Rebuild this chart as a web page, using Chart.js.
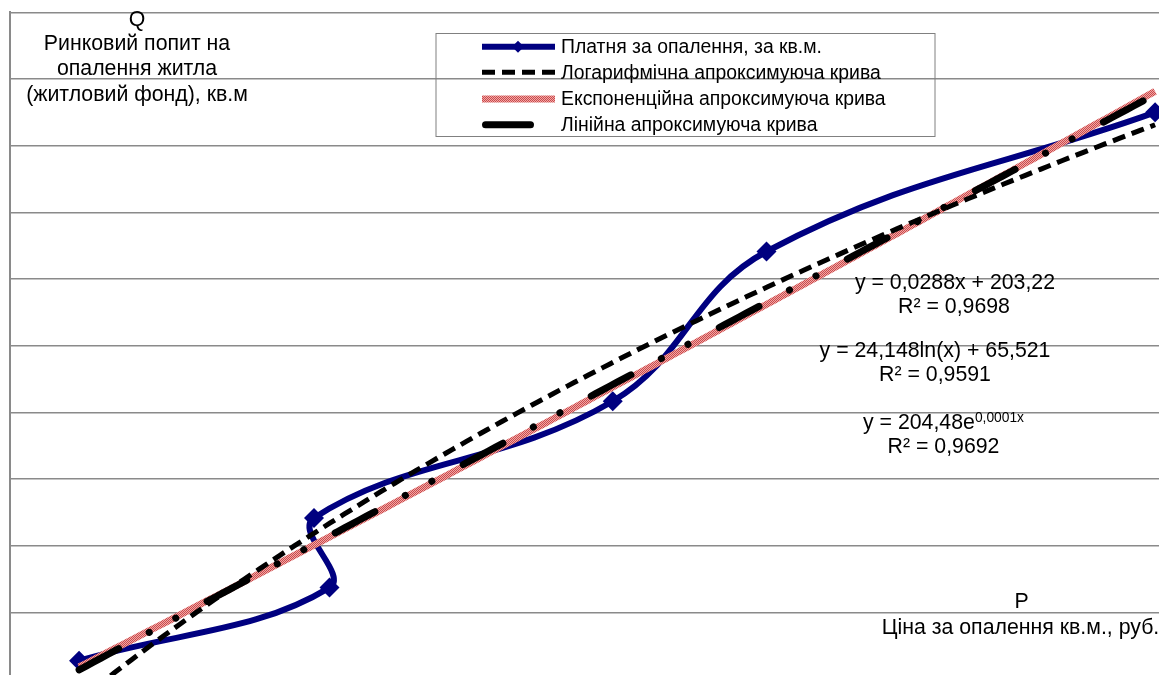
<!DOCTYPE html>
<html lang="uk">
<head>
<meta charset="utf-8">
<title>Ринковий попит на опалення житла</title>
<script src="https://cdn.jsdelivr.net/npm/chart.js@4.4.1/dist/chart.umd.min.js"></script>
<style>
  html, body { margin: 0; padding: 0; background: #fff; overflow: hidden; }
  #wrap { position: relative; width: 1159px; height: 675px; overflow: hidden; background: #fff; }
  #chart { position: absolute; left: 0; top: 0; }
</style>
</head>
<body>
<div id="wrap"><canvas id="chart" width="1210" height="690"></canvas></div>
<script>
// Heating price per sq.m (P, rub.) and the market demand for housing heating (Q, sq.m)
const price  = [565, 710, 701, 874, 963, 1188];
const demand = [219.78, 222.06, 224.23, 227.87, 232.54, 236.88];

// Axis ranges and the horizontal grid values
const xRange = [525, 1214];
const yGrid  = [240, 237.92, 235.84, 233.76, 231.68, 229.6, 227.52, 225.44, 223.36, 221.28, 219.2];

const seriesNames = [
  'Платня за опалення, за кв.м.',
  'Логарифмічна апроксимуюча крива',
  'Експоненційна апроксимуюча крива',
  'Лінійна апроксимуюча крива'
];
const yTitle = ['Q', 'Ринковий попит на', 'опалення житла', '(житловий фонд), кв.м'];
const xTitle = ['P', 'Ціна за опалення кв.м., руб.'];
const linLabel = ['y = 0,0288x + 203,22', 'R² = 0,9698'];
const logLabel = ['y = 24,148ln(x) + 65,521', 'R² = 0,9591'];
const expLabel = ['y = 204,48e', '0,0001x', 'R² = 0,9692'];

// Least-squares fits used for the three trend lines
function regress(X, Y) {
  const n = X.length;
  let mx = 0, my = 0;
  for (let i = 0; i < n; i++) { mx += X[i]; my += Y[i]; }
  mx /= n; my /= n;
  let sxx = 0, sxy = 0;
  for (let i = 0; i < n; i++) { sxx += (X[i] - mx) ** 2; sxy += (X[i] - mx) * (Y[i] - my); }
  const b = sxy / sxx;
  return { a: my - b * mx, b };
}
const linFit = regress(price, demand);
const logFit = regress(price.map(Math.log), demand);
const expRaw = regress(price, demand.map(Math.log));
const expFit = { A: Math.exp(expRaw.a), k: expRaw.b };

const xLo = Math.min(...price), xHi = Math.max(...price);
function curve(fn) {
  const pts = [];
  for (let i = 0; i <= 150; i++) {
    const x = xLo + (xHi - xLo) * i / 150;
    pts.push({ x, y: fn(x) });
  }
  return pts;
}

const FONT = '"Liberation Sans", Arial, sans-serif';
const NAVY = '#000080';
const GRID = '#8a8a8a';
const LIN_DASH = [45, 34.5, 0.1, 30, 0.1, 35.5];
const LOG_DASH = [13, 7];

const ctx = document.getElementById('chart').getContext('2d');

// fine red/pink mesh for the exponential trend line
const tile = document.createElement('canvas');
tile.width = 2; tile.height = 2;
const tg = tile.getContext('2d');
tg.fillStyle = '#efa8a8'; tg.fillRect(0, 0, 2, 2);
tg.fillStyle = '#cc4a4a'; tg.fillRect(0, 0, 1, 1); tg.fillRect(1, 1, 1, 1);
const MESH = ctx.createPattern(tile, 'repeat');

// axis titles, trend equations and the boxed legend
const annotations = {
  id: 'annotations',
  afterDraw(chart) {
    const c = chart.ctx;
    c.save();
    c.fillStyle = '#000';
    c.textBaseline = 'middle';
    c.textAlign = 'center';
    c.font = '21.3px ' + FONT;
    [20.5, 44, 69.5, 95].forEach((y, i) => c.fillText(yTitle[i], 137, y));
    c.fillText(xTitle[0], 1021.5, 602.5);
    c.fillText(xTitle[1], 1020.5, 628.5);

    c.fillText(linLabel[0], 955, 283);
    c.fillText(linLabel[1], 954, 306.7);
    c.fillText(logLabel[0], 935, 351);
    c.fillText(logLabel[1], 935, 375.5);
    c.fillText(expLabel[2], 943.5, 447.5);
    const wMain = c.measureText(expLabel[0]).width;
    c.font = '13.8px ' + FONT;
    const wSup = c.measureText(expLabel[1]).width;
    const ex = 943.5 - (wMain + wSup) / 2;
    c.textAlign = 'left';
    c.fillText(expLabel[1], ex + wMain, 418.5);
    c.font = '21.3px ' + FONT;
    c.fillText(expLabel[0], ex, 423.5);

    // legend
    c.strokeStyle = '#808080';
    c.lineWidth = 1;
    c.strokeRect(436, 33.5, 499, 103);
    const L0 = 482, L1 = 555;
    const ly = [46.7, 72.3, 99, 124.7];
    const ty = [47.3, 73.3, 99.3, 125.7];
    c.lineCap = 'butt';
    c.strokeStyle = NAVY; c.lineWidth = 6;
    c.beginPath(); c.moveTo(L0, ly[0]); c.lineTo(L1, ly[0]); c.stroke();
    c.fillStyle = NAVY;
    c.beginPath();
    c.moveTo(512, ly[0]); c.lineTo(518, ly[0] - 6); c.lineTo(524, ly[0]); c.lineTo(518, ly[0] + 6);
    c.closePath(); c.fill();
    c.strokeStyle = '#000'; c.lineWidth = 5; c.setLineDash(LOG_DASH);
    c.beginPath(); c.moveTo(L0, ly[1]); c.lineTo(L1, ly[1]); c.stroke();
    c.setLineDash([]);
    c.strokeStyle = MESH; c.lineWidth = 7;
    c.beginPath(); c.moveTo(L0, ly[2]); c.lineTo(L1, ly[2]); c.stroke();
    c.strokeStyle = '#000'; c.lineWidth = 7; c.lineCap = 'round';
    c.beginPath(); c.moveTo(L0 + 3.5, ly[3]); c.lineTo(L0 + 48.5, ly[3]); c.stroke();
    c.fillStyle = '#000';
    c.font = '19.4px ' + FONT;
    c.textAlign = 'left';
    seriesNames.forEach((s, i) => c.fillText(s, 561, ty[i]));
    c.restore();
  }
};

new Chart(ctx, {
  type: 'scatter',
  data: {
    datasets: [
      {
        label: seriesNames[0],
        data: price.map((x, i) => ({ x, y: demand[i] })),
        showLine: true, tension: 0.4,
        borderColor: NAVY, backgroundColor: NAVY, borderWidth: 6,
        pointStyle: 'rectRot', pointRadius: 10, pointBorderWidth: 0, pointBackgroundColor: NAVY,
        order: 4
      },
      {
        label: seriesNames[2],
        data: curve(x => expFit.A * Math.exp(expFit.k * x)),
        showLine: true, borderColor: MESH, borderWidth: 7, pointRadius: 0,
        order: 3
      },
      {
        label: seriesNames[1],
        data: curve(x => logFit.a + logFit.b * Math.log(x)),
        showLine: true, borderColor: '#000', borderWidth: 5, borderDash: LOG_DASH, pointRadius: 0,
        order: 2
      },
      {
        label: seriesNames[3],
        data: curve(x => linFit.a + linFit.b * x),
        showLine: true, borderColor: '#000', borderWidth: 7, borderDash: LIN_DASH,
        borderCapStyle: 'round', pointRadius: 0,
        order: 1
      }
    ]
  },
  options: {
    responsive: false,
    animation: false,
    devicePixelRatio: 1,
    layout: { padding: { left: 9.5, top: 12.3, right: 10, bottom: 10.7 } },
    plugins: { legend: { display: false }, tooltip: { enabled: false } },
    scales: {
      x: { type: 'linear', display: false, min: xRange[0], max: xRange[1] },
      y: {
        type: 'linear',
        min: yGrid[yGrid.length - 1], max: yGrid[0],
        ticks: { display: false },
        grid: { color: GRID, lineWidth: 1.5, drawTicks: false },
        border: { display: true, color: GRID, width: 2 },
        afterBuildTicks: axis => { axis.ticks = yGrid.map(v => ({ value: v })); }
      }
    }
  },
  plugins: [annotations]
});
</script>
</body>
</html>
